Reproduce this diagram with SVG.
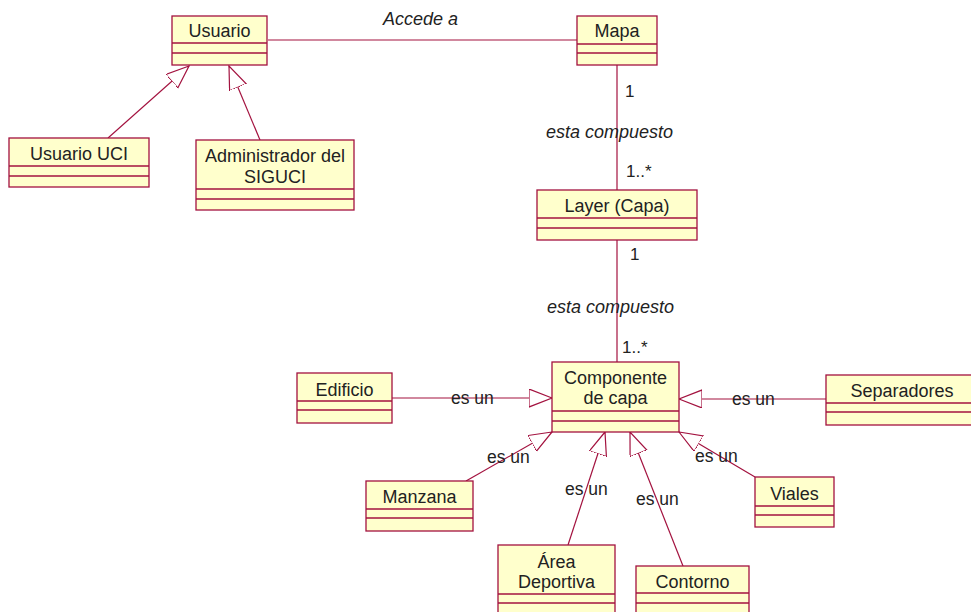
<svg xmlns="http://www.w3.org/2000/svg" width="971" height="612" viewBox="0 0 971 612">
  <style>
    .box { fill: #FFFFCC; stroke: #A3123F; stroke-width: 1.3; }
    .sep { stroke: #A3123F; stroke-width: 1.3; fill: none; }
    .edge { stroke: #A3123F; stroke-width: 1.2; fill: none; }
    .name { font-family: "Liberation Sans", Arial, sans-serif; font-size: 18px; fill: #222; text-anchor: middle; }
    .lbl { font-family: "Liberation Sans", Arial, sans-serif; font-size: 17.5px; fill: #222; }
    .role { font-family: "Liberation Sans", Arial, sans-serif; font-size: 18px; font-style: italic; fill: #222; }
    .mult { font-family: "Liberation Sans", Arial, sans-serif; font-size: 17px; fill: #222; }
  </style>
  <defs>
    <!-- hollow triangle for generalization -->
    <marker id="gen" markerUnits="userSpaceOnUse" markerWidth="30" markerHeight="24" refX="23" refY="9" orient="auto" viewBox="0 0 30 24">
      <polygon points="23,9 0,0 0,18" fill="#FFFFFF" stroke="#A3123F" stroke-width="1.2"/>
    </marker>
  </defs>
  <rect width="971" height="612" fill="#FFFFFF"/>

  <g id="connectors">
    <!-- association Usuario - Mapa -->
    <line class="edge" x1="268" y1="40" x2="577" y2="40"/>
    <!-- composition Mapa - Layer -->
    <line class="edge" x1="617" y1="65" x2="617" y2="190"/>
    <!-- composition Layer - Componente -->
    <line class="edge" x1="617" y1="240" x2="617" y2="362"/>
    <!-- generalizations -->
    <line class="edge" x1="108" y1="138" x2="189" y2="66" marker-end="url(#gen)"/>
    <line class="edge" x1="260" y1="140" x2="229" y2="66" marker-end="url(#gen)"/>
    <line class="edge" x1="392" y1="398" x2="552" y2="398" marker-end="url(#gen)"/>
    <line class="edge" x1="826" y1="399" x2="679" y2="399" marker-end="url(#gen)"/>
    <line class="edge" x1="466" y1="481" x2="552" y2="432" marker-end="url(#gen)"/>
    <line class="edge" x1="568" y1="545" x2="605" y2="432" marker-end="url(#gen)"/>
    <line class="edge" x1="683" y1="566" x2="630" y2="432" marker-end="url(#gen)"/>
    <line class="edge" x1="755" y1="477" x2="679" y2="432" marker-end="url(#gen)"/>

    <!-- labels -->
    <text class="role" x="383" y="25">Accede a</text>
    <text class="mult" x="625" y="97">1</text>
    <text class="role" x="546" y="138">esta compuesto</text>
    <text class="mult" x="626" y="177">1..*</text>
    <text class="mult" x="630" y="260">1</text>
    <text class="role" x="547" y="313">esta compuesto</text>
    <text class="mult" x="622" y="353">1..*</text>
    <text class="lbl" x="451" y="404">es un</text>
    <text class="lbl" x="732" y="405">es un</text>
    <text class="lbl" x="487" y="463">es un</text>
    <text class="lbl" x="565" y="495">es un</text>
    <text class="lbl" x="636" y="505">es un</text>
    <text class="lbl" x="695" y="462">es un</text>
  </g>

  <g id="usuario">
    <rect class="box" x="172" y="16" width="95" height="49"/>
    <line class="sep" x1="172" y1="43" x2="267" y2="43"/>
    <line class="sep" x1="172" y1="53" x2="267" y2="53"/>
    <text class="name" x="219.5" y="37">Usuario</text>
  </g>

  <g id="mapa">
    <rect class="box" x="577" y="16" width="80" height="49"/>
    <line class="sep" x1="577" y1="44" x2="657" y2="44"/>
    <line class="sep" x1="577" y1="53" x2="657" y2="53"/>
    <text class="name" x="617" y="37">Mapa</text>
  </g>

  <g id="usuario-uci">
    <rect class="box" x="9" y="138" width="140" height="49"/>
    <line class="sep" x1="9" y1="166" x2="149" y2="166"/>
    <line class="sep" x1="9" y1="176" x2="149" y2="176"/>
    <text class="name" x="79" y="160">Usuario UCI</text>
  </g>

  <g id="administrador">
    <rect class="box" x="196" y="140" width="158" height="70"/>
    <line class="sep" x1="196" y1="189" x2="354" y2="189"/>
    <line class="sep" x1="196" y1="199" x2="354" y2="199"/>
    <text class="name" x="275" y="162">Administrador del</text>
    <text class="name" x="275" y="183">SIGUCI</text>
  </g>

  <g id="layer">
    <rect class="box" x="537" y="190" width="160" height="50"/>
    <line class="sep" x1="537" y1="218" x2="697" y2="218"/>
    <line class="sep" x1="537" y1="228" x2="697" y2="228"/>
    <text class="name" x="617" y="212">Layer (Capa)</text>
  </g>

  <g id="componente">
    <rect class="box" x="552" y="362" width="127" height="70"/>
    <line class="sep" x1="552" y1="411" x2="679" y2="411"/>
    <line class="sep" x1="552" y1="421" x2="679" y2="421"/>
    <text class="name" x="615.5" y="384">Componente</text>
    <text class="name" x="615.5" y="404">de capa</text>
  </g>

  <g id="edificio">
    <rect class="box" x="297" y="373" width="95" height="50"/>
    <line class="sep" x1="297" y1="401" x2="392" y2="401"/>
    <line class="sep" x1="297" y1="410" x2="392" y2="410"/>
    <text class="name" x="344.5" y="396">Edificio</text>
  </g>

  <g id="separadores">
    <rect class="box" x="826" y="375" width="152" height="50"/>
    <line class="sep" x1="826" y1="403" x2="978" y2="403"/>
    <line class="sep" x1="826" y1="412" x2="978" y2="412"/>
    <text class="name" x="902" y="397">Separadores</text>
  </g>

  <g id="manzana">
    <rect class="box" x="366" y="481" width="107" height="50"/>
    <line class="sep" x1="366" y1="509" x2="473" y2="509"/>
    <line class="sep" x1="366" y1="518" x2="473" y2="518"/>
    <text class="name" x="419.5" y="503">Manzana</text>
  </g>

  <g id="viales">
    <rect class="box" x="755" y="477" width="79" height="50"/>
    <line class="sep" x1="755" y1="506" x2="834" y2="506"/>
    <line class="sep" x1="755" y1="515" x2="834" y2="515"/>
    <text class="name" x="794.5" y="500">Viales</text>
  </g>

  <g id="area-deportiva">
    <rect class="box" x="498" y="545" width="117" height="80"/>
    <line class="sep" x1="498" y1="594" x2="615" y2="594"/>
    <line class="sep" x1="498" y1="603" x2="615" y2="603"/>
    <text class="name" x="556.5" y="568">Área</text>
    <text class="name" x="556.5" y="588">Deportiva</text>
  </g>

  <g id="contorno">
    <rect class="box" x="636" y="566" width="113" height="60"/>
    <line class="sep" x1="636" y1="593" x2="749" y2="593"/>
    <line class="sep" x1="636" y1="603" x2="749" y2="603"/>
    <text class="name" x="692.5" y="588">Contorno</text>
  </g>
</svg>
